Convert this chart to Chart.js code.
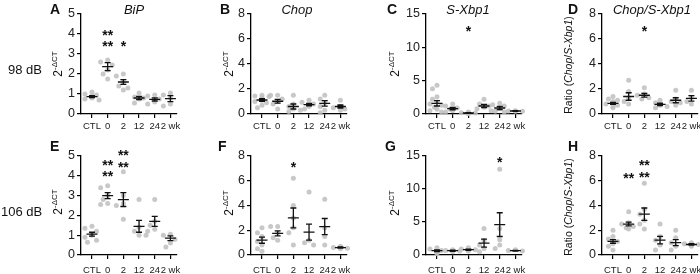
<!DOCTYPE html>
<html><head><meta charset="utf-8">
<script src="https://cdn.jsdelivr.net/npm/chart.js@4.4.1/dist/chart.umd.min.js"></script>
<style>
body{margin:0;width:700px;height:274px;overflow:hidden;background:#fff;position:relative;font-family:'Liberation Sans',Arial,sans-serif;color:#111}
.pn{position:absolute}
.lt{position:absolute;font-weight:bold;font-size:14px;line-height:1}
.tt{position:absolute;font-style:italic;font-size:13px;line-height:1;transform:translate(-50%,-50%);white-space:nowrap}
.db{position:absolute;font-size:13px;line-height:1;transform:translateY(-50%);white-space:nowrap}
.yt{position:absolute;font-size:12px;line-height:1;white-space:nowrap;transform:translate(-50%,-50%) rotate(-90deg)}
.yt sup{font-size:8px;vertical-align:5px}
.yt.r{font-size:10.5px}
</style>
</head><body>
<script>
const cats = ['CTL', '0', '2', '12', '24', '2 wk'];

// 98 dB row
const bip98Pts = [[1.1,1.0,0.95,0.9,0.85,0.8,0.75,0.7],[2.7,2.6,2.45,2.2,2.0,1.75],[2.0,1.9,1.6,1.4,1.3,1.2],[1.05,0.85,0.8,0.75,0.55],[0.95,0.9,0.75,0.6,0.5],[1.05,0.95,0.8,0.5,0.4]];
const bip98Mean = [0.87, 2.37, 1.6, 0.8, 0.73, 0.77];
const bip98Sem = [0.05, 0.2, 0.12, 0.08, 0.08, 0.15];
const bip98Stars = [[1, 4.12, '**'], [1, 3.55, '**'], [2, 3.55, '*']];

const chop98Pts = [[1.5,1.45,1.4,1.3,1.2,1.1,1.0,0.9,0.7,0.5],[1.5,1.5,1.2,1.0,0.8,0.4],[1.5,0.8,0.6,0.4,0.3,0.2],[1.1,0.95,0.8,0.6,0.4],[1.5,1.2,0.9,0.6,0.3,0.1],[1.1,0.6,0.5,0.4,0.3]];
const chop98Mean = [1.12, 1.02, 0.6, 0.75, 0.85, 0.6];
const chop98Sem = [0.1, 0.15, 0.2, 0.1, 0.22, 0.12];
const chop98Stars = [];

const xbp98Pts = [[4.3,3.8,2.6,2.2,1.8,1.5,1.3,1.0,0.7,0.5,0.3],[1.5,1.2,0.9,0.7,0.5,0.3],[0.3,0.2,0.15,0.1,0.05],[2.2,1.5,1.2,1.0,0.8,0.5],[1.6,1.4,1.2,0.8,0.4,0.3],[0.5,0.45,0.4,0.4]];
const xbp98Mean = [1.6, 0.8, 0.15, 1.2, 0.9, 0.45];
const xbp98Sem = [0.4, 0.18, 0.05, 0.25, 0.25, 0.05];
const xbp98Stars = [[2, 12.9, '*']];

const ratio98Pts = [[1.4,1.2,1.1,1.0,0.9,0.8,0.7,0.6,0.5],[2.7,1.8,1.3,1.0,0.8],[2.1,1.6,1.5,1.3,1.2],[1.1,0.9,0.7,0.6,0.5],[1.9,1.2,1.0,0.9,0.7],[1.9,1.3,1.0,0.8]];
const ratio98Mean = [0.85, 1.4, 1.5, 0.77, 1.1, 1.25];
const ratio98Sem = [0.08, 0.3, 0.15, 0.1, 0.2, 0.22];
const ratio98Stars = [[2, 6.85, '*']];

// 106 dB row
const bip106Pts = [[1.45,1.35,1.2,1.0,0.9,0.75,0.65],[3.5,3.4,3.0,2.8,2.6,2.55],[4.2,3.0,2.6,2.5,1.8],[2.8,1.4,1.2,1.0,1.0],[2.8,1.7,1.5,1.3,1.2],[1.05,1.0,0.8,0.6,0.4]];
const bip106Mean = [1.05, 3.0, 2.8, 1.45, 1.7, 0.85];
const bip106Sem = [0.1, 0.15, 0.35, 0.3, 0.25, 0.12];
const bip106Stars = [[1, 4.7, '**'], [1, 4.12, '**'], [2, 5.2, '**'], [2, 4.62, '**']];

const chop106Pts = [[2.2,1.8,1.5,1.1,0.8,0.5,0.3],[2.3,2.3,1.8,1.4,1.2],[6.2,4.0,3.0,2.2,1.8,0.8],[5.1,1.2,1.0,0.8],[4.5,2.2,1.5,0.8],[0.7,0.6,0.55,0.5]];
const chop106Mean = [1.2, 1.75, 3.0, 1.85, 2.3, 0.6];
const chop106Sem = [0.25, 0.2, 0.8, 0.65, 0.65, 0.05];
const chop106Stars = [[2, 7.35, '*']];

const xbp106Pts = [[1.1,0.9,0.7,0.5,0.4,0.2],[0.8,0.7,0.6,0.5],[1.1,0.9,0.8,0.7,0.6],[4.0,2.2,1.5,1.0,0.5],[13.0,4.0,2.3,1.5,1.0],[0.8,0.7,0.6]];
const xbp106Mean = [0.65, 0.65, 0.8, 1.8, 4.6, 0.65];
const xbp106Sem = [0.12, 0.08, 0.1, 0.6, 1.8, 0.06];
const xbp106Stars = [[4, 14.5, '*']];

const ratio106Pts = [[2.0,1.5,1.3,1.1,0.9,0.7,0.4],[3.5,2.6,2.5,2.3,2.2,2.1],[5.8,3.7,3.3,2.8,2.5,2.1],[2.5,1.5,1.2,0.8,0.4],[2.0,1.4,1.0,0.7,0.4],[1.0,0.9,0.85,0.8,0.7]];
const ratio106Mean = [1.1, 2.5, 3.3, 1.2, 1.0, 0.85];
const ratio106Sem = [0.15, 0.15, 0.5, 0.3, 0.25, 0.06];
const ratio106Stars = [[1, 6.45, '**'], [2, 7.55, '**'], [2, 6.55, '**']];

const panels = [
  { pts: bip98Pts, mean: bip98Mean, sem: bip98Sem, stars: bip98Stars, ymax: 5, step: 1, ax: 81, row: 0 },
  { pts: chop98Pts, mean: chop98Mean, sem: chop98Sem, stars: chop98Stars, ymax: 8, step: 2, ax: 251, row: 0 },
  { pts: xbp98Pts, mean: xbp98Mean, sem: xbp98Sem, stars: xbp98Stars, ymax: 15, step: 5, ax: 426, row: 0 },
  { pts: ratio98Pts, mean: ratio98Mean, sem: ratio98Sem, stars: ratio98Stars, ymax: 8, step: 2, ax: 602, row: 0 },
  { pts: bip106Pts, mean: bip106Mean, sem: bip106Sem, stars: bip106Stars, ymax: 5, step: 1, ax: 81, row: 1 },
  { pts: chop106Pts, mean: chop106Mean, sem: chop106Sem, stars: chop106Stars, ymax: 8, step: 2, ax: 251, row: 1 },
  { pts: xbp106Pts, mean: xbp106Mean, sem: xbp106Sem, stars: xbp106Stars, ymax: 15, step: 5, ax: 426, row: 1 },
  { pts: ratio106Pts, mean: ratio106Mean, sem: ratio106Sem, stars: ratio106Stars, ymax: 8, step: 2, ax: 602, row: 1 }
];

const FONT = "'Liberation Sans', Arial, sans-serif";
const XMIN = -0.7, XMAX = 5.42, CAT_PX = 15.6, DOT_R = 2.5;

// spread dots sideways so they don't sit on top of each other
function swarm(p, plotH) {
  const out = [];
  p.pts.forEach((grp, ci) => {
    const placed = [];
    [...grp].sort((a, b) => b - a).forEach(v => {
      const py = v * plotH / p.ymax;
      const cands = [0, -4.5, 4.5, -2.5, 2.5, -7, 7, -6, 6];
      let off = cands.find(o => placed.every(q => Math.hypot(q.o - o, q.py - py) >= DOT_R * 2));
      if (off === undefined) off = 0;
      placed.push({ o: off, py });
      out.push({ x: ci + off / CAT_PX, y: v });
    });
  });
  return out;
}

function makePanel(p) {
  const plotTop = p.row === 0 ? 14 : 156;
  const plotH = p.row === 0 ? 100 : 99;
  const W = 152, H = 10 + plotH + 26;
  const div = document.createElement('div');
  div.className = 'pn';
  div.style.left = (p.ax - 40) + 'px';
  div.style.top = (plotTop - 10) + 'px';
  const cv = document.createElement('canvas');
  cv.width = W; cv.height = H;
  div.appendChild(cv);
  document.body.appendChild(div);

  const marks = {
    id: 'marks',
    afterDatasetsDraw(chart) {
      const { ctx, scales: { x, y } } = chart;
      ctx.save();
      ctx.strokeStyle = '#111'; ctx.lineWidth = 1.3;
      p.mean.forEach((m, i) => {
        const cx = x.getPixelForValue(i);
        const ym = y.getPixelForValue(m);
        const yt = y.getPixelForValue(m + p.sem[i]);
        const yb = y.getPixelForValue(Math.max(0, m - p.sem[i]));
        ctx.beginPath();
        ctx.moveTo(cx - 5.5, ym); ctx.lineTo(cx + 5.5, ym);
        ctx.moveTo(cx, yt); ctx.lineTo(cx, yb);
        ctx.moveTo(cx - 3, yt); ctx.lineTo(cx + 3, yt);
        ctx.moveTo(cx - 3, yb); ctx.lineTo(cx + 3, yb);
        ctx.stroke();
      });
      ctx.fillStyle = '#111';
      ctx.font = 'bold 14px ' + FONT;
      ctx.textAlign = 'center'; ctx.textBaseline = 'alphabetic';
      p.stars.forEach(([c, v, t]) => ctx.fillText(t, x.getPixelForValue(c), y.getPixelForValue(v) + 8));
      ctx.restore();
    }
  };

  const axisGrid = { display: true, drawOnChartArea: false, drawTicks: true, tickLength: 4, color: '#000', lineWidth: 1.2 };
  new Chart(cv, {
    type: 'scatter',
    data: { datasets: [{ data: swarm(p, plotH), pointRadius: DOT_R, pointHoverRadius: DOT_R, backgroundColor: 'rgba(190,190,190,0.85)', borderWidth: 0, clip: false }] },
    options: {
      responsive: false, animation: false, events: [],
      layout: { padding: { top: 10, right: 16, left: 0, bottom: 0 } },
      plugins: { legend: { display: false }, tooltip: { enabled: false } },
      scales: {
        x: {
          type: 'linear', min: XMIN, max: XMAX,
          afterBuildTicks: s => { s.ticks = cats.map((c, i) => ({ value: i })); },
          afterFit: s => { s.height = 26; },
          ticks: { callback: v => cats[v], maxRotation: 0, autoSkip: false, padding: p.row === 0 ? 3 : 6, color: '#222', font: { size: 9.5, family: FONT } },
          grid: axisGrid, border: { color: '#000', width: 1.3 }
        },
        y: {
          min: 0, max: p.ymax,
          afterFit: s => { s.width = 40; },
          ticks: { stepSize: p.step, padding: 2, color: '#222', font: { size: 12.5, family: FONT } },
          grid: axisGrid, border: { color: '#000', width: 1.3 }
        }
      }
    },
    plugins: [marks]
  });
}

panels.forEach(makePanel);

// text around the panels
function addText(cls, html, left, top) {
  const d = document.createElement('div');
  d.className = cls; d.innerHTML = html;
  d.style.left = left + 'px'; d.style.top = top + 'px';
  document.body.appendChild(d);
}
const letters = [['A', 50, 2], ['B', 220, 2], ['C', 387, 2], ['D', 568, 2], ['E', 50, 139], ['F', 218, 139], ['G', 385, 139], ['H', 568, 139]];
letters.forEach(([t, l, tp]) => addText('lt', t, l, tp));
const titles = [['BiP', 134, 9], ['Chop', 297, 9], ['S-Xbp1', 468, 9], ['Chop/S-Xbp1', 652, 9]];
titles.forEach(([t, l, tp]) => addText('tt', t, l, tp));
addText('db', '98 dB', 8, 69);
addText('db', '106 dB', 1, 211);
const dct = '2<sup>-ΔCT</sup>';
const ratio = 'Ratio (<i>Chop</i>/<i>S-Xbp1</i>)';
const yTitles = [[dct, 57, 64], [dct, 228, 64], [dct, 394, 64], [ratio, 568, 65], [dct, 57, 202], [dct, 228, 203], [dct, 394, 203], [ratio, 568, 207]];
yTitles.forEach(([t, l, tp]) => addText(t === ratio ? 'yt r' : 'yt', t, l, tp));
</script>
</body></html>
